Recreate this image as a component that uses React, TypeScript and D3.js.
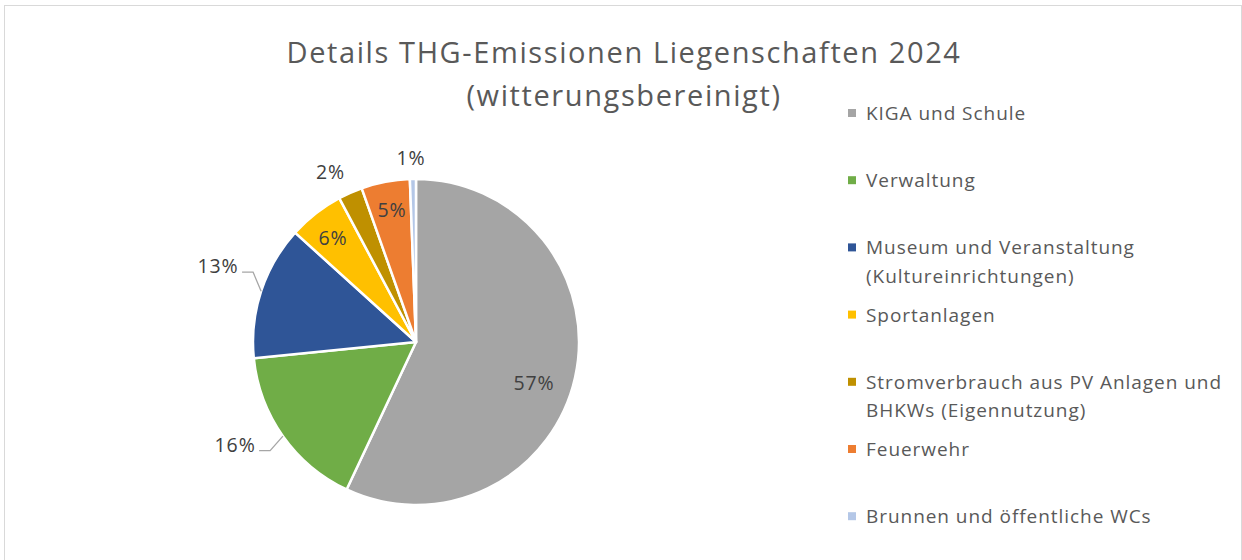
import * as d3 from "d3";

// --- Daten ---

const categories = [
  "KIGA und Schule",
  "Verwaltung",
  "Museum und Veranstaltung (Kultureinrichtungen)",
  "Sportanlagen",
  "Stromverbrauch aus PV Anlagen und BHKWs (Eigennutzung)",
  "Feuerwehr",
  "Brunnen und öffentliche WCs",
];

const shares = [57.0, 16.4, 13.3, 5.5, 2.4, 4.8, 0.6];

const colors = [
  "#a5a5a5",
  "#70ad47",
  "#2f5597",
  "#ffc000",
  "#bf9000",
  "#ed7d31",
  "#b4c7e7",
];

// Legend lines (how Excel wrapped the names)
const legendLines = [
  ["KIGA und Schule"],
  ["Verwaltung"],
  ["Museum und Veranstaltung", "(Kultureinrichtungen)"],
  ["Sportanlagen"],
  ["Stromverbrauch aus PV Anlagen und", "BHKWs (Eigennutzung)"],
  ["Feuerwehr"],
  ["Brunnen und öffentliche WCs"],
];

const titleLines = [
  "Details THG-Emissionen Liegenschaften 2024",
  "(witterungsbereinigt)",
];

// --- Layout ---

const W = 1242;
const H = 560;
const FONT = "'Open Sans', Lato, sans-serif";
const TEXT = "#595959";
const LABEL = "#404040";

const PIE = { cx: 416, cy: 342, r: 163, stroke: 2.5 };

// "best fit" placement of each data label: inside/outside, angle nudge (deg), radius
const LABEL_PLACE = [
  { outside: false, dAngle: 6.6, radius: 125 },
  { outside: true, dAngle: 5.7, radius: 208 },
  { outside: true, dAngle: 2.8, radius: 212 },
  { outside: false, dAngle: -0.6, radius: 133 },
  { outside: true, dAngle: -3.0, radius: 190 },
  { outside: false, dAngle: 0.5, radius: 134 },
  { outside: true, dAngle: -0.5, radius: 184 },
];

const LEGEND = {
  x: 848,
  textX: 866,
  firstBaseline: 120,
  step: 67.2,
  lineHeight: 28.5,
  box: 8,
  fontSize: 19,
  spacing: 0.95,
};

const polar = (angleRad: number, radius: number): [number, number] => [
  PIE.cx + Math.sin(angleRad) * radius,
  PIE.cy - Math.cos(angleRad) * radius,
];

export default function App() {
  const pie = d3
    .pie<number>()
    .sort(null)
    .value((d) => d);
  const arcs = pie(shares);
  const arc = d3
    .arc<d3.PieArcDatum<number>>()
    .innerRadius(0)
    .outerRadius(PIE.r);

  const total = d3.sum(shares);
  const labelFont = 19.5;

  return (
    <svg
      width={W}
      height={H}
      style={{ position: "absolute", left: 0, top: 0, background: "#fff" }}
      fontFamily={FONT}
    >
      <rect x={4.5} y={5.5} width={1237} height={600} fill="#fff" stroke="#d9d9d9" />

      {titleLines.map((t, i) => (
        <text
          key={t}
          x={624}
          y={63 + i * 43}
          textAnchor="middle"
          fontSize={29}
          letterSpacing={1.6}
          fill={TEXT}
        >
          {t}
        </text>
      ))}

      <g transform={`translate(${PIE.cx},${PIE.cy})`}>
        {arcs.map((a, i) => (
          <path
            key={categories[i]}
            d={arc(a) ?? ""}
            fill={colors[i]}
            stroke="#fff"
            strokeWidth={PIE.stroke}
            strokeLinejoin="round"
          />
        ))}
      </g>

      {arcs.map((a, i) => {
        const place = LABEL_PLACE[i];
        const mid = (a.startAngle + a.endAngle) / 2;
        const la = mid + (place.dAngle * Math.PI) / 180;
        const [lx, ly] = polar(la, place.radius);
        const pct = `${Math.round((a.value / total) * 100)}%`;
        const halfW = 19;
        let leader = null;
        if (place.outside && place.radius > 200) {
          const [ex, ey] = polar(mid, PIE.r);
          const side = Math.sin(la) < 0 ? -1 : 1;
          const hx = lx - side * (halfW + 5);
          const yy = ly + 6;
          const elx = hx - side * 11;
          leader = (
            <polyline
              points={`${ex},${ey} ${elx},${yy} ${hx},${yy}`}
              fill="none"
              stroke="#a6a6a6"
              strokeWidth={1.3}
            />
          );
        }
        return (
          <g key={"l" + categories[i]}>
            {leader}
            <text
              x={lx}
              y={ly + labelFont * 0.36}
              textAnchor="middle"
              fontSize={labelFont}
              letterSpacing={0.9}
              fill={LABEL}
            >
              {pct}
            </text>
          </g>
        );
      })}

      {legendLines.map((lines, i) => {
        const base = LEGEND.firstBaseline + i * LEGEND.step;
        return (
          <g key={"lg" + i}>
            <rect
              x={LEGEND.x}
              y={base - 11}
              width={LEGEND.box}
              height={LEGEND.box}
              fill={colors[i]}
            />
            {lines.map((ln, j) => (
              <text
                key={ln}
                x={LEGEND.textX}
                y={base + j * LEGEND.lineHeight}
                fontSize={LEGEND.fontSize}
                letterSpacing={LEGEND.spacing}
                fill={TEXT}
              >
                {ln}
              </text>
            ))}
          </g>
        );
      })}
    </svg>
  );
}
